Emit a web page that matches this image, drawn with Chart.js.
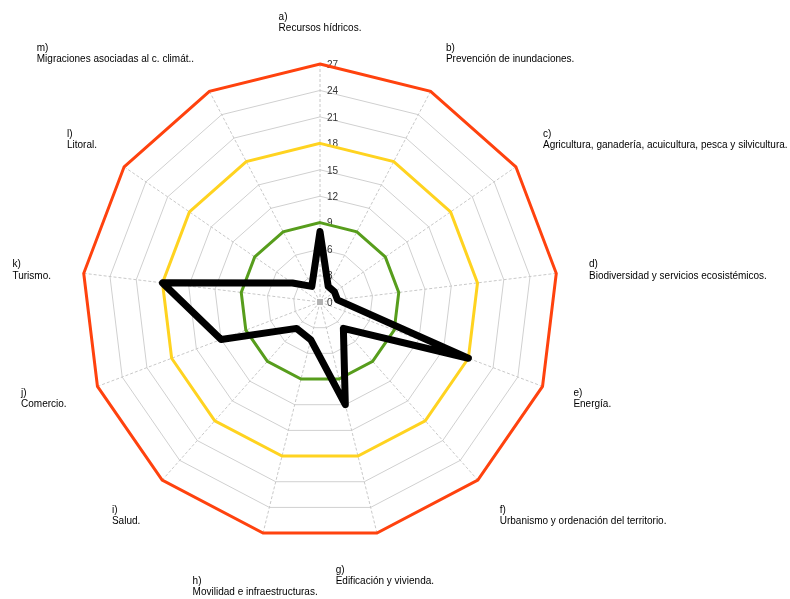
<!DOCTYPE html>
<html>
<head>
<meta charset="utf-8">
<script src="https://cdn.jsdelivr.net/npm/chart.js@4/dist/chart.umd.min.js"></script>
<style>
  html, body { margin: 0; padding: 0; background: #ffffff; }
  #wrap { width: 790px; height: 599px; position: relative; }
</style>
</head>
<body>
<div id="wrap"><canvas id="c"></canvas></div>
<script>
// ---- data ----
const letters = ['a)', 'b)', 'c)', 'd)', 'e)', 'f)', 'g)', 'h)', 'i)', 'j)', 'k)', 'l)', 'm)'];
const categories = [
  'Recursos hídricos.',
  'Prevención de inundaciones.',
  'Agricultura, ganadería, acuicultura, pesca y silvicultura.',
  'Biodiversidad y servicios ecosistémicos.',
  'Energía.',
  'Urbanismo y ordenación del territorio.',
  'Edificación y vivienda.',
  'Movilidad e infraestructuras.',
  'Salud.',
  'Comercio.',
  'Turismo.',
  'Litoral.',
  'Migraciones asociadas al c. climát..'
];
const assessment = [8, 2, 2, 2, 18, 4, 12, 4.4, 4, 12, 18, 3.8, 2];
const lowLevel    = [9, 9, 9, 9, 9, 9, 9, 9, 9, 9, 9, 9, 9];
const midLevel    = [18, 18, 18, 18, 18, 18, 18, 18, 18, 18, 18, 18, 18];
const highLevel   = [27, 27, 27, 27, 27, 27, 27, 27, 27, 27, 27, 27, 27];
const tickMin = 0, tickMax = 27, tickStep = 3;

const FONT = '"Liberation Sans", Arial, sans-serif';

// tick labels drawn left-aligned next to the vertical axis (including 0)
const tickLabelPlugin = {
  id: 'tickLabelsLeft',
  afterLayout(chart) {
    const s = chart.scales.r;
    s.drawLabels = function () {
      const ctx = this.ctx;
      ctx.save();
      // small grey centre marker
      ctx.fillStyle = '#b3b3b3';
      ctx.fillRect(this.xCenter - 3, this.yCenter - 3, 6, 6);
      ctx.font = '10px ' + FONT;
      ctx.fillStyle = '#333333';
      ctx.textAlign = 'left';
      ctx.textBaseline = 'middle';
      this.ticks.forEach(t => {
        const d = this.getDistanceFromCenterForValue(t.value);
        ctx.fillText(t.label, this.xCenter + 7, this.yCenter - d + 1);
      });
      ctx.restore();
    };
  }
};

// category labels placed outside the polygon, left-aligned blocks
const pointLabelPlugin = {
  id: 'pointLabelsBlock',
  afterDraw(chart) {
    const s = chart.scales.r;
    const ctx = chart.ctx;
    ctx.save();
    ctx.font = '10px ' + FONT;
    ctx.fillStyle = '#000000';
    ctx.textAlign = 'left';
    ctx.textBaseline = 'middle';
    chart.data.labels.forEach((lines, i) => {
      const a = s.getIndexAngle(i);
      const p = s.getPointPosition(i, s.drawingArea + 33);
      const sn = Math.sin(a), cs = Math.cos(a);
      const w = Math.max(...lines.map(t => ctx.measureText(t).width));
      const x = sn > 0.35 ? p.x : (sn < -0.35 ? p.x - w : p.x - w / 2);
      let y = cs > 0.45 ? p.y - 14 : (cs < -0.45 ? p.y + 5 : p.y - 5);
      if (cs < -0.9 && sn < 0) y += 11; // bottom-left label sits one line lower
      lines.forEach((t, k) => ctx.fillText(t, x, y + k * 11.5));
    });
    ctx.restore();
  }
};

const labels = categories.map((c, i) => [letters[i], c]);

new Chart(document.getElementById('c'), {
  type: 'radar',
  data: {
    labels: labels,
    datasets: [
      { label: 'Valoración', data: assessment, borderColor: '#000000', borderWidth: 7,
        borderJoinStyle: 'round', fill: false, pointRadius: 0, order: 0 },
      { label: 'Alto', data: highLevel, borderColor: '#ff420e', borderWidth: 3,
        fill: false, pointRadius: 0, order: 1 },
      { label: 'Medio', data: midLevel, borderColor: '#ffd320', borderWidth: 3,
        fill: false, pointRadius: 0, order: 2 },
      { label: 'Bajo', data: lowLevel, borderColor: '#579d1c', borderWidth: 3,
        fill: false, pointRadius: 0, order: 3 }
    ]
  },
  options: {
    responsive: true,
    maintainAspectRatio: false,
    animation: false,
    layout: { padding: { left: 75, right: 225, top: 57, bottom: 52 } },
    plugins: { legend: { display: false }, tooltip: { enabled: false } },
    elements: { line: { tension: 0 } },
    scales: {
      r: {
        min: tickMin,
        max: tickMax,
        ticks: { stepSize: tickStep, font: { size: 10, family: FONT }, backdropPadding: 2,
                 showLabelBackdrop: false, color: '#333333' },
        grid: { color: '#d0d0d0', lineWidth: 1 },
        angleLines: { color: '#c8c8c8', lineWidth: 1, borderDash: [3, 2] },
        pointLabels: { display: false }
      }
    }
  },
  plugins: [tickLabelPlugin, pointLabelPlugin]
});
</script>
</body>
</html>
